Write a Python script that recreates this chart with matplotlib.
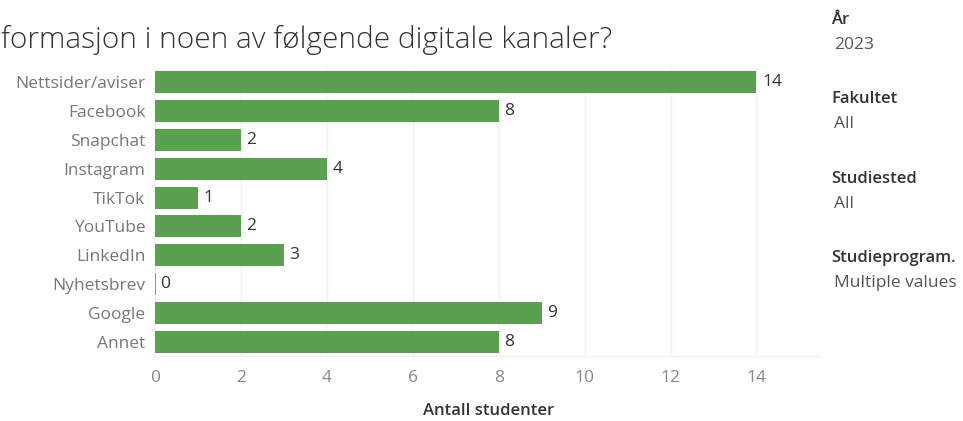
import matplotlib.pyplot as plt

plt.rcParams['font.family'] = ['Open Sans', 'DejaVu Sans']

# data
kanaler = ['Nettsider/aviser', 'Facebook', 'Snapchat', 'Instagram', 'TikTok',
           'YouTube', 'LinkedIn', 'Nyhetsbrev', 'Google', 'Annet']
antall = [14, 8, 2, 4, 1, 2, 3, 0, 9, 8]
x_ticks = [0, 2, 4, 6, 8, 10, 12, 14]

filter_navn = ['År', 'Fakultet', 'Studiested', 'Studieprogram.']
filter_verdi = ['2023', 'All', 'All', 'Multiple values']

green = '#59a14f'

fig = plt.figure(figsize=(9.63, 4.21), dpi=100)
ax = fig.add_axes([155 / 963, 1 - 356 / 421, 665 / 963, 288 / 421])

pos = list(range(len(kanaler)))
ax.barh(pos, antall, height=0.76, color=green, linewidth=0, zorder=3)
# null-verdier vises som en tynn strek
null_pos = [p for p, v in zip(pos, antall) if v == 0]
null_val = [v for v in antall if v == 0]
ax.barh(null_pos, null_val, height=0.76, color=green, edgecolor=green,
        linewidth=1.2, zorder=3)

for p, v in zip(pos, antall):
    ax.annotate(str(v), (v, p), xytext=(4, 0), textcoords='offset points',
                va='center', ha='left', fontsize=12.5, color='#333333')

ax.set_ylim(len(kanaler) - 0.5, -0.5)
ax.set_xlim(0, 15.48)
ax.set_yticks(pos)
ax.set_yticklabels(kanaler, fontsize=12.5, color='#777777')
ax.set_xticks(x_ticks)
ax.set_xticklabels([str(t) for t in x_ticks], fontsize=12.5, color='#888888')
ax.tick_params(axis='y', length=0, pad=7)
ax.tick_params(axis='x', length=0, pad=10)

ax.grid(axis='x', color='#f0f0f0', linewidth=1, zorder=0)
for s in ['top', 'right', 'left']:
    ax.spines[s].set_visible(False)
ax.spines['bottom'].set_color('#eeeeee')

fig.text(489 / 963, 1 - 411 / 421, 'Antall studenter', ha='center', va='center',
         fontsize=12, color='#333333', fontweight='semibold')

fig.text(612 / 963, 1 - 40 / 421, 'formasjon i noen av følgende digitale kanaler?',
         ha='right', va='center', fontsize=21.5, color='#333333', fontweight='light')

# filterpanel til høyre
for i, (navn, verdi) in enumerate(zip(filter_navn, filter_verdi)):
    y0 = 20 + i * 79.3
    fig.text(831 / 963, 1 - y0 / 421, navn, ha='left', va='center',
             fontsize=12, fontweight='semibold', color='#333333')
    fig.text(834 / 963, 1 - (y0 + 25) / 421, verdi, ha='left', va='center',
             fontsize=12.5, color='#555555')

fig.savefig('out.png', dpi=100)
